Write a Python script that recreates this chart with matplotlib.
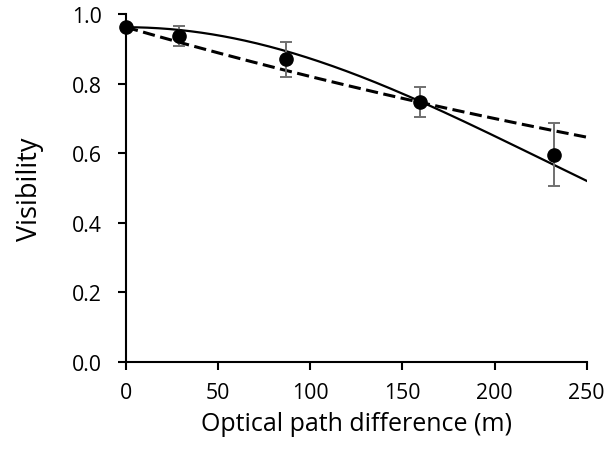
import numpy as np
import matplotlib
matplotlib.use("Agg")
import matplotlib.pyplot as plt

plt.rcParams['font.family'] = ['Open Sans', 'DejaVu Sans']

# Data
opd = [0, 29, 87, 159.5, 232]
visibility = [0.962, 0.936, 0.870, 0.746, 0.595]
err_low = [0.0, 0.029, 0.050, 0.042, 0.090]
err_high = [0.0, 0.030, 0.050, 0.044, 0.092]

# Fit parameters
fit_v0 = 0.962
gauss_length = 319.0   # solid: V0*exp(-(x/L)^2)
exp_length = 628.0     # dashed: V0*exp(-x/L)
curve_range = (0, 250)

x_ticks = [0, 50, 100, 150, 200, 250]
y_ticks = [0.0, 0.2, 0.4, 0.6, 0.8, 1.0]

fig = plt.figure(figsize=(6.10, 4.52), dpi=100)
ax = fig.add_axes([0.2066, 0.1969, 0.7552, 0.7699])

xs = np.linspace(curve_range[0], curve_range[1], 300)
ax.plot(xs, fit_v0 * np.exp(-(xs / gauss_length) ** 2), color='black', lw=1.6, zorder=2)
ax.plot(xs, fit_v0 * np.exp(-xs / exp_length), color='black', lw=2.2,
        linestyle=(0, (4.0, 1.8)), zorder=2)

ax.errorbar(opd, visibility, yerr=[err_low, err_high], fmt='none',
            ecolor='#707070', elinewidth=1.4, capsize=4.3, capthick=1.4, zorder=3)
ax.plot(opd, visibility, 'o', color='black', markersize=9.5, zorder=4, clip_on=False)

ax.set_xlim(0, 250)
ax.set_ylim(0, 1.0)
ax.set_xticks(x_ticks)
ax.set_yticks(y_ticks)
ax.set_yticklabels([f"{v:.1f}" for v in y_ticks])
for s in ['top', 'right']:
    ax.spines[s].set_visible(False)
for s in ['left', 'bottom']:
    ax.spines[s].set_linewidth(1.5)
ax.tick_params(direction='out', length=5.5, width=1.5, labelsize=15.3)
ax.tick_params(axis='x', pad=9)
ax.tick_params(axis='y', pad=12)
ax.set_xlabel('Optical path difference (m)', fontsize=18, labelpad=5.3)
ax.set_ylabel('Visibility', fontsize=19.5, labelpad=20)

fig.savefig('out.png', dpi=100)
